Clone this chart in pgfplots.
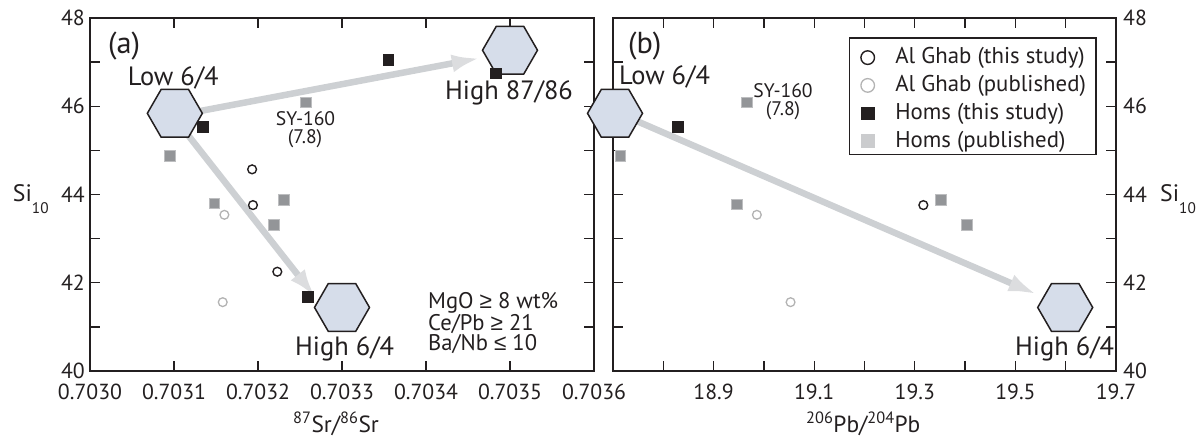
\documentclass[border=0pt]{standalone}
\usepackage{pgfplots}
\pgfplotsset{compat=1.18}
\usepackage{fontspec}
\setmainfont{PT Sans}
\newfontfamily\symf{Liberation Sans}
\usetikzlibrary{arrows.meta}
\definecolor{ink}{HTML}{231F20}
\definecolor{hexfill}{HTML}{D6DDEA}
\definecolor{arrowc}{HTML}{CDD0D3}
\definecolor{arrowh}{HTML}{DCDDDF}
\definecolor{lgray}{HTML}{B3B3B3}
\definecolor{mgray}{HTML}{939598}
\definecolor{mgrayedge}{HTML}{BDBEC0}
\definecolor{lsq}{HTML}{CBCCCE}

\pgfdeclareplotmark{hexagon}{%
  \pgfpathmoveto{\pgfqpointpolar{0}{\pgfplotmarksize}}%
  \pgfpathlineto{\pgfqpointpolar{60}{\pgfplotmarksize}}%
  \pgfpathlineto{\pgfqpointpolar{120}{\pgfplotmarksize}}%
  \pgfpathlineto{\pgfqpointpolar{180}{\pgfplotmarksize}}%
  \pgfpathlineto{\pgfqpointpolar{240}{\pgfplotmarksize}}%
  \pgfpathlineto{\pgfqpointpolar{300}{\pgfplotmarksize}}%
  \pgfpathclose
  \pgfusepathqfillstroke}

\newlength\mw
\newcommand\fit[3]{\settowidth\mw{\fontsize{10pt}{12pt}\selectfont #3}\pgfmathsetmacro#1{10*#2/\mw}}
\newcommand\fs[1]{\fontsize{#1 pt}{#1 pt}\selectfont}

\pgfplotsset{
  panel/.style={
    scale only axis, height=353pt,
    ymin=40, ymax=48,
    ytick={40,...,48}, yticklabels={40,,42,,44,,46,,48},
    tick align=inside, major tick length=10pt,
    axis line style={ink, line width=1.3pt},
    every tick/.style={ink, line width=1.3pt},
    tick label style={font=\fs{\tickfs}, text=ink},
    xticklabel style={anchor=base, yshift=-28.3pt},
    /pgf/number format/assume math mode=true,
    clip=false,
  },
  hex/.style={only marks, mark=hexagon, mark size=27.5pt,
    mark options={fill=hexfill, draw=ink, line width=1.5pt}},
  gathis/.style={only marks, mark=o, mark size=4.4pt, mark options={draw=ink, line width=1.4pt}},
  gapub/.style={only marks, mark=o, mark size=4.4pt, mark options={draw=lgray, line width=1.3pt}},
  homsthis/.style={only marks, mark=square*, mark size=5.3pt, mark options={fill=ink, draw=ink, line width=0.3pt}},
  homspub/.style={only marks, mark=square*, mark size=5.3pt, mark options={fill=mgray, draw=mgrayedge, line width=0.8pt}},
  arr/.style={arrowc, line width=6.5pt, -{Latex[length=28pt,width=18pt,color=arrowh]}},
}

\begin{document}%
\fit{\tickfs}{64}{0.7030}%
\fit{\hexfs}{127.7}{High 87/86}%
\fit{\syfs}{59.3}{SY-160}%
\fit{\notefs}{130}{MgO {\symf ≥} 8 wt\%}%
\fit{\legfs}{189.5}{Al Ghab (this study)}%
\fit{\letfs}{32}{(a)}%
\fit{\sifs}{19}{Si}%
\fit{\subfs}{16.7}{10}%
\fit{\labfs}{87}{\textsuperscript{87}Sr/\textsuperscript{86}Sr}%
\begin{tikzpicture}
\path[use as bounding box] (0,0) rectangle (1197pt,439pt);

% ---------------- panel (a)
\begin{axis}[panel,
  at={(90pt,68pt)}, anchor=south west, width=504pt,
  xmin=0.7030, xmax=0.7036,
  xtick={0.7030,0.7031,0.7032,0.7033,0.7034,0.7035,0.7036},
  xticklabels={0.7030,0.7031,0.7032,0.7033,0.7034,0.7035,0.7036},
  yticklabel style={inner xsep=0pt, xshift=-5pt},
]
\addplot[arr] coordinates {(0.703125,45.87) (0.703464,47.09)};
\addplot[arr] coordinates {(0.703112,45.46) (0.703268,41.68)};
\addplot[hex] coordinates {(0.703101,45.84) (0.703500,47.27) (0.703300,41.44)};
\addplot[gapub] coordinates {(0.703160,43.54) (0.703158,41.56)};
\addplot[gathis] coordinates {(0.703193,44.57) (0.703194,43.76) (0.703223,42.25)};
\addplot[homspub] coordinates {(0.703257,46.09) (0.703095,44.87) (0.703148,43.80) (0.703231,43.88) (0.703219,43.31)};
\addplot[homsthis] coordinates {(0.703355,47.05) (0.703134,45.54) (0.703483,46.75) (0.703259,41.68)};
\end{axis}

% ---------------- panel (b)
\begin{axis}[panel,
  at={(613pt,68pt)}, anchor=south west, width=503pt,
  xmin=18.7, xmax=19.7,
  xtick={18.7,18.8,18.9,19.0,19.1,19.2,19.3,19.4,19.5,19.6,19.7},
  xticklabels={,,18.9,,19.1,,19.3,,19.5,,19.7},
  yticklabel pos=right,
  yticklabel style={inner xsep=0pt, xshift=7pt},
  legend style={at={(0.4692,0.9453)}, anchor=north west, draw=ink, line width=1.2pt,
    font=\fs{\legfs}, text=ink, inner xsep=10pt, inner ysep=4pt, row sep=2.5pt, column sep=19.5pt,
    cells={anchor=base west},
    nodes={inner sep=0pt, text height=22pt, text depth=3.3pt}},
  legend image code/.code={\path (-7.5pt,0pt) (7.5pt,0pt); \draw[#1] plot coordinates {(0pt,6.3pt)};},
]
\addlegendimage{mark=o, mark size=6.8pt, mark options={draw=ink, line width=1.4pt}}
\addlegendentry{Al Ghab (this study)}
\addlegendimage{mark=o, mark size=6.8pt, mark options={draw=lgray, line width=1.3pt}}
\addlegendentry{Al Ghab (published)}
\addlegendimage{mark=square*, mark size=6.4pt, mark options={fill=ink, draw=ink, line width=0.3pt}}
\addlegendentry{Homs (this study)}
\addlegendimage{mark=square*, mark size=6.4pt, mark options={fill=lsq, draw=lsq, line width=0.3pt}}
\addlegendentry{Homs (published)}
\addplot[arr, forget plot] coordinates {(18.734,45.73) (19.542,41.74)};
\addplot[hex, forget plot] coordinates {(18.704,45.84) (19.599,41.44)};
\addplot[gapub, forget plot] coordinates {(18.986,43.54) (19.053,41.56)};
\addplot[gathis, forget plot] coordinates {(19.317,43.76)};
\addplot[homspub, forget plot] coordinates {(18.966,46.09) (18.715,44.87) (18.946,43.78) (19.352,43.88) (19.403,43.31)};
\addplot[homsthis, forget plot] coordinates {(18.829,45.54)};
\end{axis}

% ---------------- texts (picture coordinates: x, 439 - y)
\begin{scope}[every node/.style={inner sep=0pt, text=ink}]
\node[anchor=base west, font=\fs{\letfs}] at (108pt,385.7pt) {(a)};
\node[anchor=base west, font=\fs{\letfs}] at (628pt,385.7pt) {(b)};
\node[anchor=base west, font=\fs{\hexfs}] at (127.7pt,353.3pt) {Low 6/4};
\node[anchor=base west, font=\fs{\hexfs}] at (445pt,339.7pt) {High 87/86};
\node[anchor=base west, font=\fs{\hexfs}] at (295pt,83pt) {High 6/4};
\node[anchor=base west, font=\fs{\hexfs}] at (619pt,354pt) {Low 6/4};
\node[anchor=base west, font=\fs{\hexfs}] at (1015pt,83pt) {High 6/4};
\node[anchor=base, font=\fs{\syfs}] at (305.5pt,313pt) {SY-160};
\node[anchor=base, font=\fs{\syfs}] at (305pt,295pt) {(7.8)};
\node[anchor=base, font=\fs{\syfs}] at (783pt,341.3pt) {SY-160};
\node[anchor=base, font=\fs{\syfs}] at (783pt,323.5pt) {(7.8)};
\node[anchor=north west, align=left, font={\fontsize{\notefs pt}{20.8pt}\selectfont}] at (428pt,147pt)
  {MgO {\symf ≥} 8 wt\%\\Ce/Pb {\symf ≥} 21\\Ba/Nb {\symf ≤} 10};
\node[anchor=base west, font=\fs{\sifs}] at (12.7pt,237.3pt) {Si\raisebox{-11.5pt}{\fs{\subfs}10}};
\node[anchor=base west, font=\fs{\sifs}] at (1160pt,237.3pt) {Si\raisebox{-11.5pt}{\fs{\subfs}10}};
\node[anchor=base west, font=\fs{\labfs}] at (293pt,6.5pt) {\textsuperscript{87}Sr/\textsuperscript{86}Sr};
\node[anchor=base west, font=\fs{\labfs}] at (806pt,6.5pt) {\textsuperscript{206}Pb/\textsuperscript{204}Pb};
\end{scope}
\end{tikzpicture}%
\end{document}
